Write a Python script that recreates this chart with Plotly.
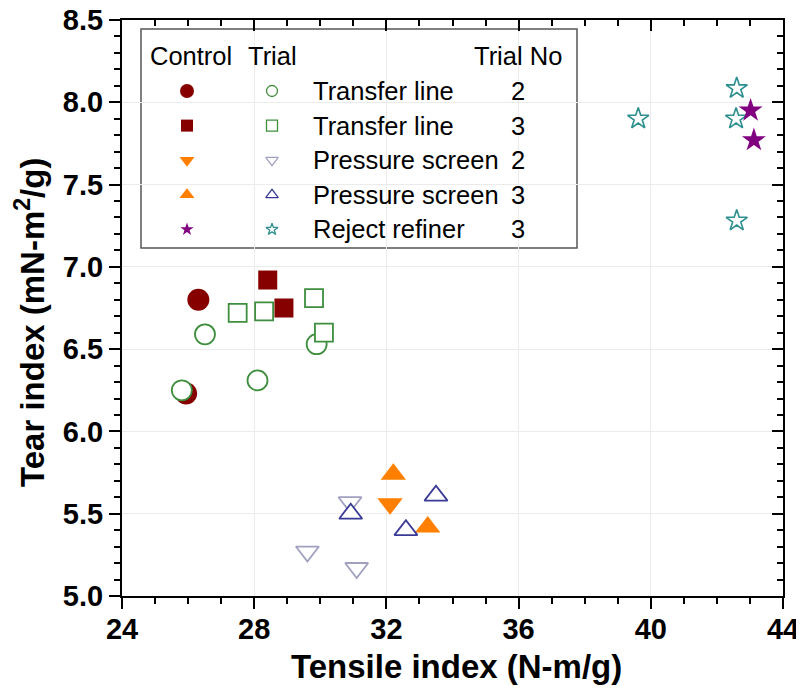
import plotly.graph_objects as go

# ---------------- data ----------------
# Control (filled markers)
ctrl_tl2_x = [26.31, 25.94]
ctrl_tl2_y = [6.80, 6.23]
ctrl_tl3_x = [28.41, 28.90]
ctrl_tl3_y = [6.92, 6.75]
ctrl_ps2_x = [32.11]
ctrl_ps2_y = [5.56]
ctrl_ps3_x = [32.21, 33.25]
ctrl_ps3_y = [5.74, 5.42]
ctrl_rr3_x = [43.02, 43.12]
ctrl_rr3_y = [7.95, 7.77]

# Trial (open markers)
trial_tl2_x = [25.81, 26.51, 28.10, 29.89]
trial_tl2_y = [6.25, 6.59, 6.31, 6.53]
trial_tl3_x = [27.50, 28.30, 29.81, 30.11]
trial_tl3_y = [6.72, 6.73, 6.81, 6.60]
trial_ps2_x = [30.90, 29.61, 31.10]
trial_ps2_y = [5.57, 5.27, 5.17]
trial_ps3_x = [30.92, 32.59, 33.50]
trial_ps3_y = [5.50, 5.40, 5.61]
trial_rr3_x = [42.60, 39.62, 42.58, 42.60]
trial_rr3_y = [8.085, 7.90, 7.90, 7.28]

legend_labels = ["Transfer line", "Transfer line", "Pressure screen", "Pressure screen", "Reject refiner"]
legend_trial_no = ["2", "3", "2", "3", "3"]
legend_headers = ["Control", "Trial", "Trial No"]

x_range = [24, 44]
y_range = [5.0, 8.5]
x_title = "Tensile index (N-m/g)"
y_title = "Tear index (mN-m<sup>2</sup>/g)"

# ---------------- styling ----------------
FONT = "Liberation Sans, Arial, Helvetica, sans-serif"
DARKRED = "#870000"
ORANGE = "#FF8000"
PURPLE = "#800080"
GREEN = "#3E8E3E"
LAV = "#A0A0C0"
NAVY = "#3A3A96"
TEAL = "#2E8F8F"

W, H = 804, 689
OFF = 8  # page body margin
# target screen positions of the plot frame
SL, SR, ST, SB = 122, 783, 20, 596
PL, PR, PT, PB = SL - OFF, SR - OFF, ST - OFF, SB - OFF


def px2paper_x(px):
    return (px - SL) / (SR - SL)


def py2paper_y(py):
    return (SB - py) / (SB - ST)


def px2dx(px):
    return x_range[0] + (px - SL) / (SR - SL) * (x_range[1] - x_range[0])


def py2dy(py):
    return y_range[0] + (SB - py) / (SB - ST) * (y_range[1] - y_range[0])


series = [
    # (x, y, symbol, size, fill, line color, line width)
    (ctrl_tl2_x, ctrl_tl2_y, "circle", 22, DARKRED, DARKRED, 0),
    (trial_tl2_x, trial_tl2_y, "circle", 20, "white", GREEN, 1.8),
    (ctrl_tl3_x, ctrl_tl3_y, "square", 19, DARKRED, DARKRED, 0),
    (trial_tl3_x, trial_tl3_y, "square", 18, "white", GREEN, 1.8),
    (ctrl_ps2_x, ctrl_ps2_y, "triangle-down", 22, ORANGE, ORANGE, 0),
    (trial_ps2_x, trial_ps2_y, "triangle-down", 20, "white", LAV, 1.8),
    (ctrl_ps3_x, ctrl_ps3_y, "triangle-up", 22, ORANGE, ORANGE, 0),
    (trial_ps3_x, trial_ps3_y, "triangle-up", 20, "white", NAVY, 1.8),
    (trial_rr3_x, trial_rr3_y, "star", 16, "white", TEAL, 1.6),
    (ctrl_rr3_x, ctrl_rr3_y, "star", 18, PURPLE, PURPLE, 0),
]

fig = go.Figure()
for xs, ys, sym, size, fill, lc, lw in series:
    fig.add_trace(go.Scatter(
        x=xs, y=ys, mode="markers", showlegend=False, hoverinfo="x+y",
        marker=dict(symbol=sym, size=size, color=fill, line=dict(color=lc, width=lw)),
    ))

# ---------------- custom table legend ----------------
box_l, box_r, box_t, box_b = 141, 577, 29, 248
fig.add_shape(type="rect", xref="x", yref="y", layer="below",
              x0=px2dx(box_l), x1=px2dx(box_r), y0=py2dy(box_b), y1=py2dy(box_t),
              line=dict(color="#555555", width=1.5), fillcolor="white")

row0, row_step = 91, 34.6
ctrl_col, trial_col, label_col, no_col = 187, 272, 311, 518
leg_ctrl = [("circle", 14, DARKRED), ("square", 12, DARKRED), ("triangle-down", 13, ORANGE),
            ("triangle-up", 13, ORANGE), ("star", 10, PURPLE)]
leg_trial = [("circle", 11, GREEN), ("square", 11, GREEN), ("triangle-down", 11, LAV),
             ("triangle-up", 11, NAVY), ("star", 9, TEAL)]
LEG_FS = 25.5
for i in range(len(legend_labels)):
    py = row0 + i * row_step
    s, sz, c = leg_ctrl[i]
    fig.add_trace(go.Scatter(x=[px2dx(ctrl_col)], y=[py2dy(py)], mode="markers", showlegend=False,
                             hoverinfo="skip", marker=dict(symbol=s, size=sz, color=c, line=dict(width=0))))
    s, sz, c = leg_trial[i]
    fig.add_trace(go.Scatter(x=[px2dx(trial_col)], y=[py2dy(py)], mode="markers", showlegend=False,
                             hoverinfo="skip", marker=dict(symbol=s, size=sz, color="white",
                                                           line=dict(color=c, width=1.3))))
    fig.add_annotation(x=px2paper_x(label_col), y=py2paper_y(py), xref="paper", yref="paper",
                       text=legend_labels[i], showarrow=False, xanchor="left", yanchor="middle",
                       font=dict(family=FONT, size=LEG_FS, color="black"))
    fig.add_annotation(x=px2paper_x(no_col), y=py2paper_y(py), xref="paper", yref="paper",
                       text=legend_trial_no[i], showarrow=False, xanchor="center", yanchor="middle",
                       font=dict(family=FONT, size=LEG_FS, color="black"))

hdr_y = 56
for txt, px, anc in zip(legend_headers, [148, 246, 564], ["left", "left", "right"]):
    fig.add_annotation(x=px2paper_x(px), y=py2paper_y(hdr_y), xref="paper", yref="paper",
                       text=txt, showarrow=False, xanchor=anc, yanchor="middle",
                       font=dict(family=FONT, size=LEG_FS, color="black"))

# axis titles
fig.add_annotation(x=px2paper_x(457), y=py2paper_y(666), xref="paper", yref="paper",
                   text=x_title, showarrow=False, xanchor="center", yanchor="middle",
                   font=dict(family=FONT, size=33, color="black", weight="bold"))
fig.add_annotation(x=px2paper_x(30), y=py2paper_y(323), xref="paper", yref="paper",
                   text=y_title, showarrow=False, xanchor="center", yanchor="middle", textangle=-90,
                   font=dict(family=FONT, size=33, color="black", weight="bold"))

# helper trace for the mirrored (inward) ticks on top/right
fig.add_trace(go.Scatter(x=[None], y=[None], xaxis="x2", yaxis="y2", showlegend=False, hoverinfo="skip"))

tickfont = dict(family=FONT, size=29, color="black", weight="bold")
fig.update_layout(
    width=W, height=H,
    margin=dict(l=PL, r=W - PR, t=PT, b=H - PB, autoexpand=False),
    paper_bgcolor="white", plot_bgcolor="white",
    xaxis=dict(range=x_range, tick0=24, dtick=4, ticks="outside", ticklen=11, tickwidth=2,
               tickcolor="black", showline=True, linecolor="black", linewidth=2, mirror=True,
               showgrid=True, gridcolor="#ebebeb", gridwidth=1, zeroline=False,
               tickfont=tickfont, ticklabelstandoff=-5, ticklabeloverflow="allow",
               minor=dict(dtick=1, ticklen=6, tickwidth=1.5, ticks="outside", tickcolor="black",
                          showgrid=False)),
    yaxis=dict(range=y_range, tick0=5, dtick=0.5, tickformat=".1f", ticks="outside", ticklen=11,
               tickwidth=2, tickcolor="black", showline=True, linecolor="black", linewidth=2,
               mirror=True, showgrid=True, gridcolor="#ebebeb", gridwidth=1, zeroline=False,
               tickfont=tickfont, ticklabeloverflow="allow",
               minor=dict(dtick=0.1, ticklen=6, tickwidth=1.5, ticks="outside", tickcolor="black",
                          showgrid=False)),
    xaxis2=dict(range=x_range, overlaying="x", side="top", anchor="y2", tick0=24, dtick=4,
                ticks="inside", ticklen=11, tickwidth=2, tickcolor="black", showticklabels=False,
                showgrid=False, zeroline=False, showline=False,
                minor=dict(dtick=1, ticklen=6, tickwidth=1.5, ticks="inside", tickcolor="black",
                           showgrid=False)),
    yaxis2=dict(range=y_range, overlaying="y", side="right", anchor="x2", tick0=5, dtick=0.5,
                ticks="inside", ticklen=11, tickwidth=2, tickcolor="black", showticklabels=False,
                showgrid=False, zeroline=False, showline=False,
                minor=dict(dtick=0.1, ticklen=6, tickwidth=1.5, ticks="inside", tickcolor="black",
                           showgrid=False)),
)

fig.write_html("out.html")
